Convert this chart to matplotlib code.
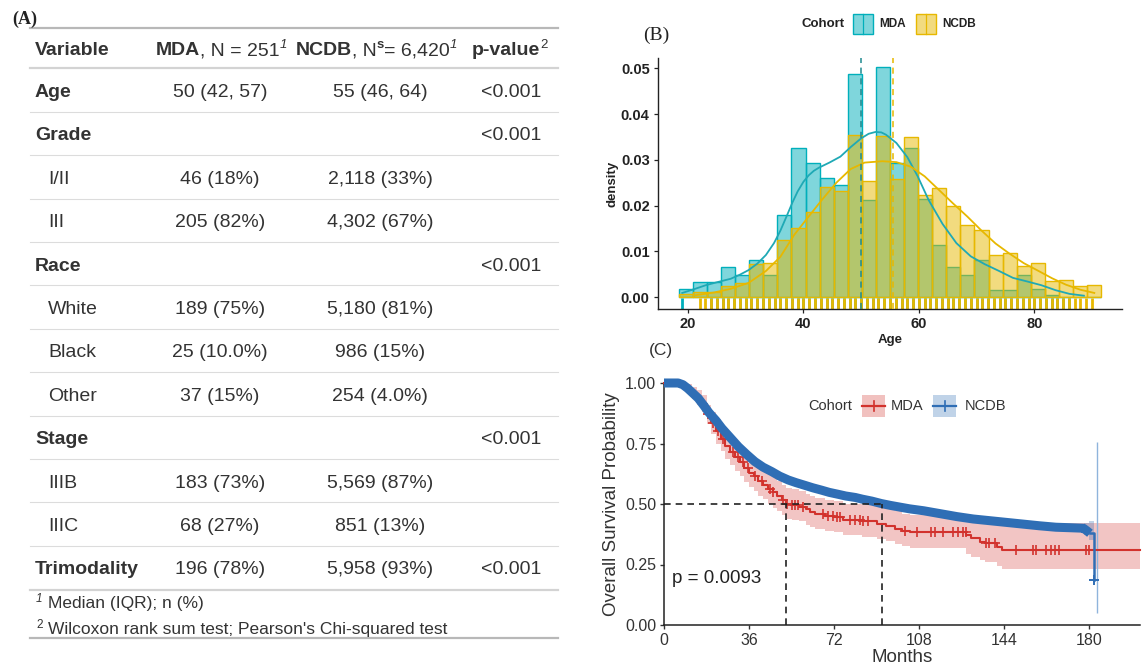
import numpy as np
import matplotlib
matplotlib.use("Agg")
import matplotlib.pyplot as plt
from matplotlib.patches import Rectangle
from matplotlib.colors import to_rgba

plt.rcParams['font.family'] = ['Liberation Sans', 'DejaVu Sans']

# ------------------------------------------------------------------ data
# (A) table
tbl_labels = ['Age', 'Grade', 'I/II', 'III', 'Race', 'White', 'Black', 'Other',
              'Stage', 'IIIB', 'IIIC', 'Trimodality']
tbl_is_group = [True, True, False, False, True, False, False, False,
                True, False, False, True]
tbl_mda = ['50 (42, 57)', '', '46 (18%)', '205 (82%)', '', '189 (75%)',
           '25 (10.0%)', '37 (15%)', '', '183 (73%)', '68 (27%)', '196 (78%)']
tbl_ncdb = ['55 (46, 64)', '', '2,118 (33%)', '4,302 (67%)', '', '5,180 (81%)',
            '986 (15%)', '254 (4.0%)', '', '5,569 (87%)', '851 (13%)', '5,958 (93%)']
tbl_p = ['<0.001', '<0.001', '', '', '<0.001', '', '', '', '<0.001', '', '', '<0.001']
footnotes = ['Median (IQR); n (%)', "Wilcoxon rank sum test; Pearson's Chi-squared test"]

# (B) histogram (density per bin)
age_bin_start = 18.4
age_bin_width = 2.44
mda_density = [0.0017, 0.0032, 0.0033, 0.0065, 0.0049, 0.0081, 0.0049, 0.0179,
               0.0326, 0.0293, 0.0260, 0.0244, 0.0487, 0.0212, 0.0504, 0.0293,
               0.0326, 0.0214, 0.0114, 0.0066, 0.0049, 0.0082, 0.0016, 0.0016,
               0.0049, 0.0018, 0.0004, 0.0, 0.0, 0.0]
ncdb_density = [0.0007, 0.0010, 0.0012, 0.0025, 0.0030, 0.0072, 0.0074, 0.0125,
                0.0150, 0.0185, 0.0240, 0.0232, 0.0355, 0.0254, 0.0352, 0.0258,
                0.0350, 0.0224, 0.0238, 0.0198, 0.0157, 0.0146, 0.0091, 0.0096,
                0.0069, 0.0074, 0.0036, 0.0037, 0.0024, 0.0026]
kde_mda_age = [19.0, 21.0, 23.1, 25.2, 27.4, 29.0, 30.5, 32.0, 33.5, 34.9, 36.0,
               37.2, 38.1, 39.0, 40.0, 40.9, 41.8, 42.7, 44.5, 46.4, 48.2, 50.0,
               51.3, 52.5, 53.5, 54.3, 56.1, 58.0, 59.8, 61.7, 64.1, 66.5, 69.0,
               71.4, 73.9, 76.3, 78.8, 81.2, 83.7, 86.1, 88.6]
kde_mda = [0.0009, 0.0017, 0.0026, 0.0033, 0.0040, 0.0049, 0.0059, 0.0073, 0.0092,
           0.0118, 0.0145, 0.0180, 0.0207, 0.0231, 0.0252, 0.0266, 0.0276, 0.0283,
           0.0294, 0.0307, 0.0328, 0.0347, 0.0357, 0.0361, 0.0360, 0.0355, 0.0337,
           0.0306, 0.0264, 0.0212, 0.0160, 0.0118, 0.0089, 0.0072, 0.0057, 0.0042,
           0.0034, 0.0026, 0.0015, 0.0007, 0.0003]
kde_ncdb_age = [21.3, 24.5, 27.4, 30.5, 33.5, 36.0, 38.4, 40.9, 43.3, 45.7, 48.2,
                50.6, 53.7, 56.1, 58.6, 61.0, 63.5, 65.9, 68.4, 70.8, 73.3, 75.7,
                78.2, 80.6, 83.1, 85.5, 88.0, 90.4]
kde_ncdb = [0.0004, 0.0010, 0.0018, 0.0031, 0.0057, 0.0088, 0.0136, 0.0176, 0.0214,
            0.0250, 0.0280, 0.0294, 0.0297, 0.0295, 0.0285, 0.0264, 0.0234, 0.0205,
            0.0176, 0.0146, 0.0117, 0.0095, 0.0074, 0.0058, 0.0041, 0.0027, 0.0016,
            0.0009]
median_age_mda = 50.0
median_age_ncdb = 55.5
rug_mda = [19] + list(range(24, 87))
rug_ncdb = list(range(22, 91))

# (C) Kaplan-Meier
mda_time = [0, 6, 8, 10, 12, 14, 16, 18, 20, 22, 24, 26, 28, 30, 32, 34, 36, 38, 40,
            42, 44, 46, 48, 50, 51.7, 54, 57, 60, 62, 64, 68, 72, 76, 84, 90, 94, 98,
            101, 104, 128, 130, 134, 136, 141, 143]
mda_surv = [1.0, .996, .988, .976, .96, .94, .915, .87, .835, .80, .77, .74, .715,
            .695, .675, .65, .63, .615, .595, .58, .563, .548, .532, .515, .50, .496,
            .488, .478, .468, .458, .452, .446, .434, .428, .418, .41, .398, .388,
            .383, .37, .358, .345, .338, .322, .31]
mda_hi = [1.0, 1.0, 1.0, .995, .985, .97, .95, .91, .88, .85, .82, .795, .77, .75,
          .73, .71, .69, .675, .655, .64, .625, .61, .595, .58, .565, .56, .553, .543,
          .534, .524, .518, .512, .50, .495, .486, .478, .47, .46, .455, .445, .435,
          .428, .425, .42, .42]
mda_lo = [1.0, .985, .97, .955, .935, .91, .88, .83, .79, .75, .72, .685, .66, .635,
          .615, .59, .57, .555, .535, .52, .50, .485, .47, .455, .44, .435, .428, .415,
          .405, .395, .39, .385, .372, .365, .355, .347, .336, .325, .32, .295, .283,
          .27, .262, .245, .233]
mda_last_followup = 201.6
mda_censor = [18.8, 20.9, 23.0, 25.1, 29.4, 31.5, 33.6, 35.7, 38.5, 41.4, 44.9, 46.3,
              50.6, 52.0, 54.1, 55.5, 56.9, 59.0, 67.5, 69.6, 71.7, 73.1, 74.6, 78.8,
              80.9, 83.0, 84.4, 86.5, 102, 107, 113, 114.7, 118, 122.3, 124.4, 126.5,
              127.9, 136.4, 137.8, 140, 149.1, 156.2, 157.6, 161.8, 163.9, 165.4,
              167.5, 178.8, 180.2]
ncdb_time = [0, 6, 8, 10, 12, 14.5, 17, 19, 22, 24.5, 28, 31.5, 35, 38.5, 42, 45.6,
             49, 52.7, 56, 59.7, 63, 66.8, 70, 73.8, 77, 81, 84, 88, 92, 96, 100, 104,
             110, 117, 124, 131, 138, 145, 152, 159, 166, 172, 177.6, 179, 180.4, 182]
ncdb_surv = [1.0, 1.0, .993, .978, .96, .937, .905, .878, .845, .813, .775, .737,
             .705, .675, .652, .634, .615, .599, .588, .577, .567, .557, .548, .54,
             .533, .527, .52, .512, .502, .494, .487, .48, .472, .46, .448, .438,
             .431, .424, .417, .41, .404, .402, .40, .39, .379, .186]
ncdb_ci_time = [176, 178, 180, 182]
ncdb_ci_lo = [.385, .37, .35, .35]
ncdb_ci_hi = [.415, .42, .43, .43]
ncdb_last_ci = (183.3, 0.048, 0.757)
median_surv_mda = 51.7
median_surv_ncdb = 92.2
p_text = 'p = 0.0093'

# ------------------------------------------------------------------ style
TEAL = '#00AFBB'
GOLD = '#E7B800'
RED = '#D2322D'
BLUE = '#2F6EB5'
TXT = '#333333'
W, H = 1144, 668

fig = plt.figure(figsize=(W / 100, H / 100), dpi=100)
fig.patch.set_facecolor('white')

# ------------------------------------------------------------------ (B)
axB = fig.add_axes([658 / W, 1 - 308.5 / H, 464 / W, 250.2 / H])
n = len(mda_density)
centers = age_bin_start + age_bin_width * (np.arange(n) + 0.5)
for dens, col in [(mda_density, TEAL), (ncdb_density, GOLD)]:
    axB.bar(centers, dens, width=age_bin_width, facecolor=to_rgba(col, 0.5),
            edgecolor=col, linewidth=1.0, zorder=2)
axB.plot(kde_mda_age, kde_mda, color='#1FA9B5', lw=1.3, zorder=3)
axB.plot(kde_ncdb_age, kde_ncdb, color=GOLD, lw=1.3, zorder=3)
axB.axvline(median_age_mda, color='#1F8A8F', lw=1.1, ls=(0, (4, 3)), zorder=4)
axB.axvline(median_age_ncdb, color=GOLD, lw=1.1, ls=(0, (4, 3)), zorder=4)
axB.vlines(rug_mda, 0, 0.04, transform=axB.get_xaxis_transform(), color=TEAL, lw=2.0)
axB.vlines(rug_ncdb, 0, 0.04, transform=axB.get_xaxis_transform(), color=GOLD, lw=2.0)
axB.set_xlim(14.8, 95.2)
axB.set_ylim(-0.0025, 0.0522)
axB.set_yticks([0, 0.01, 0.02, 0.03, 0.04, 0.05])
axB.set_yticklabels(['0.00', '0.01', '0.02', '0.03', '0.04', '0.05'])
axB.set_xticks([20, 40, 60, 80])
for s in ['top', 'right']:
    axB.spines[s].set_visible(False)
for s in ['left', 'bottom']:
    axB.spines[s].set_linewidth(1.0)
    axB.spines[s].set_color('#222222')
axB.tick_params(length=3, width=0.9, pad=3, labelsize=10.5, colors='#222222')
for lab in axB.get_xticklabels() + axB.get_yticklabels():
    lab.set_fontweight('bold')
axB.text(-0.099, 0.5, 'density', transform=axB.transAxes, rotation=90,
         ha='center', va='center', fontsize=9.5, fontweight='bold', color='#222222')
axB.text(0.5, -0.125, 'Age', transform=axB.transAxes, ha='center', va='center',
         fontsize=9.5, fontweight='bold', color='#222222')

# ------------------------------------------------------------------ (C)
axC = fig.add_axes([664 / W, 1 - 625 / H, 476 / W, 242 / H])
t_m = mda_time + [mda_last_followup]
axC.fill_between(t_m, mda_lo + [mda_lo[-1]], mda_hi + [mda_hi[-1]], step='post',
                 color=RED, alpha=0.28, lw=0, zorder=1)
axC.fill_between(ncdb_ci_time, ncdb_ci_lo, ncdb_ci_hi, step='post',
                 color=BLUE, alpha=0.3, lw=0, zorder=1)
axC.vlines(ncdb_last_ci[0], ncdb_last_ci[1], ncdb_last_ci[2], color='#8FB4DC', lw=1.0, zorder=1)
# MDA first, NCDB drawn on top
axC.step(t_m, mda_surv + [mda_surv[-1]], where='post', color=RED, lw=1.5, zorder=3,
         clip_on=False)
idx = np.searchsorted(mda_time, mda_censor, side='right') - 1
axC.plot(mda_censor, np.array(mda_surv)[idx], ls='none', marker='+', ms=7, mew=1.2,
         color=RED, zorder=3)
# many events/censorings -> the NCDB curve appears as a smooth, thick band
axC.plot(ncdb_time[:-1], ncdb_surv[:-1], color=BLUE, lw=6.5,
         zorder=4, clip_on=False, solid_capstyle='butt', solid_joinstyle='round')
axC.step(ncdb_time[-2:], ncdb_surv[-2:], where='post', color=BLUE, lw=1.8, zorder=4)
axC.plot(ncdb_time[-1], ncdb_surv[-1], marker='+', ms=7, mew=1.4, color=BLUE, zorder=4)
dash = (0, (4, 3))
axC.plot([0, median_surv_ncdb], [0.5, 0.5], color='#222222', lw=1.2, ls=dash, zorder=5)
axC.plot([median_surv_mda, median_surv_mda], [0, 0.5], color='#222222', lw=1.2, ls=dash, zorder=5)
axC.plot([median_surv_ncdb, median_surv_ncdb], [0, 0.5], color='#222222', lw=1.2, ls=dash, zorder=5)
axC.text(3.3, 0.193, p_text, fontsize=13.5, ha='left', va='center', color='#222222')
axC.set_xlim(0, mda_last_followup)
axC.set_ylim(0, 1)
axC.set_xticks([0, 36, 72, 108, 144, 180])
axC.set_yticks([0, 0.25, 0.5, 0.75, 1.0])
axC.set_yticklabels(['0.00', '0.25', '0.50', '0.75', '1.00'])
for s in ['top', 'right']:
    axC.spines[s].set_visible(False)
for s in ['left', 'bottom']:
    axC.spines[s].set_linewidth(1.1)
    axC.spines[s].set_color('#222222')
axC.tick_params(length=3, width=1.0, pad=2.5, labelsize=11.5, colors='#333333')
axC.set_xlabel('Months', fontsize=13.5, color='#333333', labelpad=1)
axC.set_ylabel('Overall Survival Probability', fontsize=13.5, color='#333333', labelpad=4)

# ------------------------------------------------------------------ overlay (table, labels, legends)
ax_t = fig.add_axes([0, 0, 1, 1], zorder=10)
ax_t.set_xlim(0, W)
ax_t.set_ylim(H, 0)
ax_t.axis('off')
ax_t.patch.set_alpha(0)

renderer = fig.canvas.get_renderer()
FS = 14


def runs_text(x, yc, runs, align='center', fs=FS, color=TXT):
    base = yc + 0.36 * fs * 100 / 72
    items = []
    total = 0.0
    for s, weight, style, size, dy in runs:
        t = ax_t.text(0, base - dy, s, fontsize=size, fontweight=weight,
                      fontstyle=style, color=color, ha='left', va='baseline')
        w = t.get_window_extent(renderer=renderer).width
        items.append((t, w))
        total += w
    start = x - total / 2 if align == 'center' else x
    for t, w in items:
        t.set_x(start)
        start += w


# table rules
x0, x1 = 29.5, 558
ax_t.plot([x0, x1], [28.3, 28.3], color='#B8B8B8', lw=1.6)
ax_t.plot([x0, x1], [68.3, 68.3], color='#D3D3D3', lw=1.6)
row_y0, row_dy = 90.0, 43.4
for k in range(len(tbl_labels) - 1):
    yl = row_y0 + row_dy * k + row_dy / 2
    ax_t.plot([x0, x1], [yl, yl], color='#DCDCDC', lw=0.8)
ax_t.plot([x0, x1], [589.9, 589.9], color='#D3D3D3', lw=1.6)
ax_t.plot([x0, x1], [638.3, 638.3], color='#B8B8B8', lw=1.6)

# header
runs_text(35, 48.3, [('Variable', 'bold', 'normal', FS, 0)], align='left')
runs_text(221, 48.3, [('MDA', 'bold', 'normal', FS, 0),
                      (', N = 251', 'normal', 'normal', FS, 0),
                      ('1', 'normal', 'italic', 9.5, 7)])
runs_text(376, 48.3, [('NCDB', 'bold', 'normal', FS, 0),
                      (', N', 'normal', 'normal', FS, 0),
                      ('s', 'bold', 'normal', 9.5, 7),
                      ('= 6,420', 'normal', 'normal', FS, 0),
                      ('1', 'normal', 'italic', 9.5, 7)])
runs_text(510, 48.3, [('p-value', 'bold', 'normal', FS, 0),
                      ('2', 'normal', 'normal', 9.5, 7)])

# body
for i, lab in enumerate(tbl_labels):
    yc = row_y0 + row_dy * i
    grp = tbl_is_group[i]
    runs_text(35 if grp else 48, yc, [(lab, 'bold' if grp else 'normal', 'normal', FS, 0)],
              align='left')
    if tbl_mda[i]:
        runs_text(220, yc, [(tbl_mda[i], 'normal', 'normal', FS, 0)])
    if tbl_ncdb[i]:
        runs_text(380, yc, [(tbl_ncdb[i], 'normal', 'normal', FS, 0)])
    if tbl_p[i]:
        runs_text(511, yc, [(tbl_p[i], 'normal', 'normal', FS, 0)])

# footnotes
FN = 12.5
runs_text(36, 601.7, [('1', 'normal', 'italic', 8.5, 6)], align='left', fs=FN)
runs_text(48, 601.7, [(footnotes[0], 'normal', 'normal', FN, 0)], align='left', fs=FN)
runs_text(36, 627.3, [('2', 'normal', 'normal', 8.5, 6)], align='left', fs=FN)
runs_text(48, 627.3, [(footnotes[1], 'normal', 'normal', FN, 0)], align='left', fs=FN)

# panel labels
ax_t.text(25, 19, '(A)', family=['Liberation Serif', 'DejaVu Serif'], fontsize=13,
          fontweight='bold', ha='center', va='center', color='#222222')
ax_t.text(656, 35, '(B)', family=['Liberation Serif', 'DejaVu Serif'], fontsize=14,
          ha='center', va='center', color='#222222')
ax_t.text(661, 350, '(C)', fontsize=12.5, ha='center', va='center', color='#333333')

# legend B
ax_t.text(801, 24, 'Cohort', fontsize=9.5, fontweight='bold', ha='left', va='center',
          color='#222222')
for kx, col, lab, lx in [(853, TEAL, 'MDA', 879), (916, GOLD, 'NCDB', 942)]:
    ax_t.add_patch(Rectangle((kx, 14), 20, 20, facecolor=to_rgba(col, 0.5),
                             edgecolor=col, lw=1.0))
    ax_t.plot([kx + 10, kx + 10], [14, 34], color=col, lw=0.9)
    ax_t.text(lx, 24, lab, fontsize=8.5, fontweight='bold', ha='left', va='center',
              color='#222222')

# legend C
ax_t.text(808, 406, 'Cohort', fontsize=10.5, ha='left', va='center', color='#333333')
for kx, col, lab, lx in [(862, RED, 'MDA', 891), (933, BLUE, 'NCDB', 965)]:
    ax_t.add_patch(Rectangle((kx, 395), 23, 22, facecolor=to_rgba(col, 0.3), lw=0))
    ax_t.plot([kx, kx + 23], [406, 406], color=col, lw=1.6)
    ax_t.plot([kx + 11.5, kx + 11.5], [401, 411], color=col, lw=1.2)
    ax_t.text(lx, 406, lab, fontsize=10.5, ha='left', va='center', color='#333333')

fig.savefig('out.png', dpi=100, facecolor='white')
